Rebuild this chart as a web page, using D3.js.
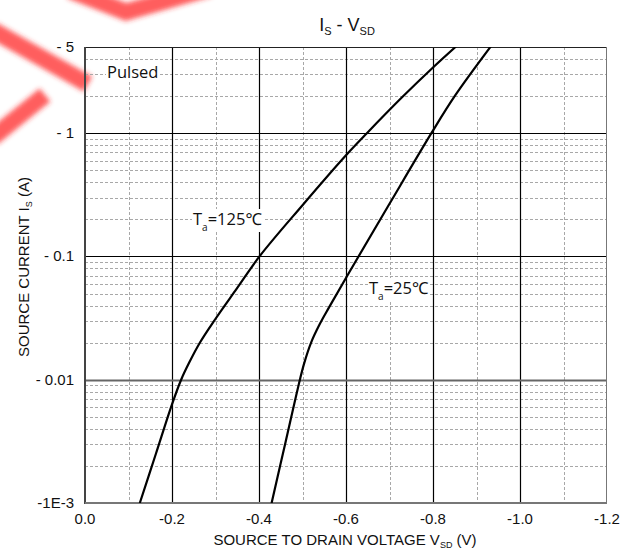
<!DOCTYPE html>
<html><head><meta charset="utf-8">
<script src="https://cdn.jsdelivr.net/npm/d3@7"></script>
<style>body{margin:0;background:#fff}svg{display:block}</style>
</head><body>
<script>
// ---- data ----
const v125 = [-0.126,-0.163,-0.200,-0.221,-0.239,-0.264,-0.299,-0.350,-0.4015,-0.50,-0.60,-0.648,-0.730,-0.800,-0.853];
const i125 = [0.001,0.00251,0.00631,0.01,0.01365,0.01995,0.0308,0.0555,0.1005,0.2606,0.6622,1.0,1.972,3.41,5.05];
const v25 = [-0.429,-0.461,-0.494,-0.504,-0.520,-0.540,-0.561,-0.620,-0.700,-0.797,-0.851,-0.933];
const i25 = [0.001,0.00311,0.01,0.01365,0.0201,0.0284,0.0386,0.0885,0.2673,1.009,2.023,5.06];
const xTicks = [0,-0.2,-0.4,-0.6,-0.8,-1.0,-1.2];
const xTickLabels = ["0.0","-0.2","-0.4","-0.6","-0.8","-1.0","-1.2"];
const xMinor = [-0.1,-0.3,-0.5,-0.7,-0.9,-1.1];
const yTicks = [5,1,0.1,0.01,0.001];
const yTickLabels = ["- 5","- 1","- 0.1","- 0.01","-1E-3"];

const W=621,H=552, L=85,R=607,T=47,B=503;
const svg=d3.select("body").append("svg").attr("width",W).attr("height",H);
const x=d3.scaleLinear().domain([0,-1.2]).range([L,R]);
const y=d3.scaleLog().domain([0.001,5]).range([B,T]);

// watermark
const defs=svg.append("defs");
defs.append("filter").attr("id","blur").append("feGaussianBlur").attr("stdDeviation",2.5);
const wm=svg.append("g").attr("fill","none").attr("stroke","#ff2a2a").attr("stroke-opacity",0.75).attr("stroke-width",17).attr("filter","url(#blur)");
wm.append("path").attr("d","M70,-10 L126,12 L210,-12");
wm.append("path").attr("d","M-8,30 L88,84");
wm.append("path").attr("d","M45,95 L-8,138");

// minor grid
const yMinor=[];
for(let e=-3;e<=0;e++) for(let k=2;k<=9;k++){const v=k*Math.pow(10,e); if(v<5) yMinor.push(v);}
const g=svg.append("g");
g.selectAll(".ym").data(yMinor).join("line").attr("x1",L).attr("x2",R)
 .attr("y1",d=>Math.round(y(d))+0.5).attr("y2",d=>Math.round(y(d))+0.5)
 .attr("stroke","#a8a8a8").attr("stroke-dasharray","3,2");
g.selectAll(".xm").data(xMinor).join("line").attr("y1",T).attr("y2",B)
 .attr("x1",d=>Math.round(x(d))+0.5).attr("x2",d=>Math.round(x(d))+0.5)
 .attr("stroke","#a8a8a8").attr("stroke-dasharray","3,2");
// major grid
g.selectAll(".xM").data(xTicks.slice(1,-1)).join("line").attr("y1",T).attr("y2",B)
 .attr("x1",d=>Math.round(x(d))+0.5).attr("x2",d=>Math.round(x(d))+0.5)
 .attr("stroke","#000").attr("stroke-width",1.2);
g.selectAll(".yM").data([1,0.1,0.01]).join("line").attr("x1",L).attr("x2",R)
 .attr("y1",d=>Math.round(y(d))+0.5).attr("y2",d=>Math.round(y(d))+0.5)
 .attr("stroke",d=>d===0.01?"#666":"#000").attr("stroke-width",d=>d===0.01?1.8:1.2);
// frame
svg.append("line").attr("x1",L).attr("x2",R).attr("y1",T+0.5).attr("y2",T+0.5).attr("stroke","#222");
svg.append("line").attr("x1",R-0.5).attr("x2",R-0.5).attr("y1",T).attr("y2",B).attr("stroke","#777");
svg.append("line").attr("x1",L).attr("x2",L).attr("y1",T).attr("y2",B+1).attr("stroke","#444").attr("stroke-width",2);
svg.append("line").attr("x1",L).attr("x2",R).attr("y1",B).attr("y2",B).attr("stroke","#777").attr("stroke-width",2);

// curves
svg.append("clipPath").attr("id","c").append("rect").attr("x",L).attr("y",T).attr("width",R-L).attr("height",B-T);
const line=d3.line().x(d=>x(d[0])).y(d=>y(d[1])).curve(d3.curveCatmullRom.alpha(0.5));
const cg=svg.append("g").attr("clip-path","url(#c)");
cg.append("path").attr("d",line(v125.map((v,i)=>[v,i125[i]]))).attr("fill","none").attr("stroke","#000").attr("stroke-width",2.2);
cg.append("path").attr("d",line(v25.map((v,i)=>[v,i25[i]]))).attr("fill","none").attr("stroke","#000").attr("stroke-width",2.2);

// axes labels
const af="Liberation Sans, Arial, sans-serif";
svg.append("g").selectAll("text").data(xTicks).join("text")
 .attr("x",d=>x(d)).attr("y",524).attr("text-anchor","middle")
 .attr("font-family",af).attr("font-size",15).attr("fill","#111").text((d,i)=>xTickLabels[i]);
svg.append("g").selectAll("text").data(yTicks).join("text")
 .attr("x",74).attr("y",d=>y(d)+5).attr("text-anchor","end")
 .attr("font-family",af).attr("font-size",15).attr("fill","#111").text((d,i)=>yTickLabels[i]);

// titles
const t=svg.append("text").attr("x",347).attr("y",31).attr("text-anchor","middle").attr("font-family",af).attr("font-size",18).attr("fill","#111");
t.append("tspan").text("I");
t.append("tspan").attr("font-size",11).attr("dy",4).text("S");
t.append("tspan").attr("dy",-4).text(" - V");
t.append("tspan").attr("font-size",11).attr("dy",4).text("SD");

const xl=svg.append("text").attr("x",345).attr("y",545).attr("text-anchor","middle").attr("font-family",af).attr("font-size",15).attr("fill","#111");
xl.append("tspan").text("SOURCE TO DRAIN VOLTAGE V");
xl.append("tspan").attr("font-size",9).attr("dy",3).text("SD");
xl.append("tspan").attr("dy",-3).text(" (V)");

const yl=svg.append("text").attr("transform","translate(29,267) rotate(-90)").attr("text-anchor","middle").attr("font-family",af).attr("font-size",15).attr("fill","#111");
yl.append("tspan").text("SOURCE CURRENT I");
yl.append("tspan").attr("font-size",9).attr("dy",3).text("S");
yl.append("tspan").attr("dy",-3).text(" (A)");

// annotations
const nf="Open Sans, Noto Sans, sans-serif";
function note(xx,yy,parts){
  const tx=svg.append("text").attr("x",xx).attr("y",yy).attr("font-family",nf).attr("font-size",16.5).attr("fill","#111");
  parts(tx);
  const bb=tx.node().getBBox();
  svg.insert("rect",()=>tx.node()).attr("x",bb.x-1).attr("y",bb.y+2).attr("width",bb.width+2).attr("height",bb.height-4).attr("fill","#fff");
}
note(107,78,tx=>tx.text("Pulsed"));
note(193,225,tx=>{tx.append("tspan").text("T");tx.append("tspan").attr("font-size",10).attr("dy",6).text("a");tx.append("tspan").attr("dy",-6).text("=125℃");});
note(369,294,tx=>{tx.append("tspan").text("T");tx.append("tspan").attr("font-size",10).attr("dy",6).text("a");tx.append("tspan").attr("dy",-6).text("=25℃");});
</script>
</body></html>
